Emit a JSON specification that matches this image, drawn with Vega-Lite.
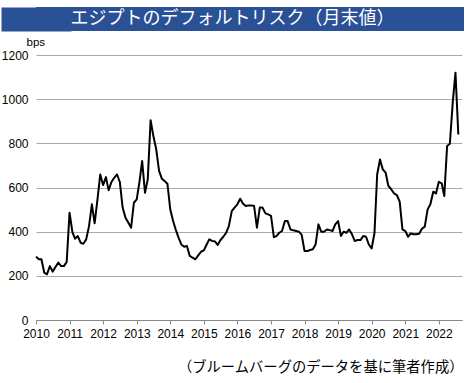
{
  "$schema": "https://vega.github.io/schema/vega-lite/v6.json",
  "padding": {"left": 1, "top": 7, "right": 0, "bottom": 0},
  "background": "white",
  "config": {"view": {"stroke": null}, "font": "Liberation Sans"},
  "datasets": {
    "title": [{"t": "エジプトのデフォルトリスク（月末値）"}],
    "cds": [
      {"date": "2010/01/01", "bps": 287}, {"date": "2010/02/01", "bps": 275}, {"date": "2010/03/01", "bps": 275}, {"date": "2010/04/01", "bps": 214}, {"date": "2010/05/01", "bps": 207}, {"date": "2010/06/01", "bps": 244}, {"date": "2010/07/01", "bps": 219}, {"date": "2010/08/01", "bps": 240}, {"date": "2010/09/01", "bps": 260}, {"date": "2010/10/01", "bps": 244}, {"date": "2010/11/01", "bps": 244}, {"date": "2010/12/01", "bps": 263},
      {"date": "2011/01/01", "bps": 486}, {"date": "2011/02/01", "bps": 398}, {"date": "2011/03/01", "bps": 368}, {"date": "2011/04/01", "bps": 380}, {"date": "2011/05/01", "bps": 350}, {"date": "2011/06/01", "bps": 345}, {"date": "2011/07/01", "bps": 365}, {"date": "2011/08/01", "bps": 425}, {"date": "2011/09/01", "bps": 524}, {"date": "2011/10/01", "bps": 438}, {"date": "2011/11/01", "bps": 546}, {"date": "2011/12/01", "bps": 659},
      {"date": "2012/01/01", "bps": 611}, {"date": "2012/02/01", "bps": 647}, {"date": "2012/03/01", "bps": 588}, {"date": "2012/04/01", "bps": 625}, {"date": "2012/05/01", "bps": 644}, {"date": "2012/06/01", "bps": 659}, {"date": "2012/07/01", "bps": 625}, {"date": "2012/08/01", "bps": 508}, {"date": "2012/09/01", "bps": 463}, {"date": "2012/10/01", "bps": 441}, {"date": "2012/11/01", "bps": 418}, {"date": "2012/12/01", "bps": 531},
      {"date": "2013/01/01", "bps": 546}, {"date": "2013/02/01", "bps": 629}, {"date": "2013/03/01", "bps": 720}, {"date": "2013/04/01", "bps": 576}, {"date": "2013/05/01", "bps": 637}, {"date": "2013/06/01", "bps": 905}, {"date": "2013/07/01", "bps": 833}, {"date": "2013/08/01", "bps": 773}, {"date": "2013/09/01", "bps": 675}, {"date": "2013/10/01", "bps": 640}, {"date": "2013/11/01", "bps": 629}, {"date": "2013/12/01", "bps": 617},
      {"date": "2014/01/01", "bps": 500}, {"date": "2014/02/01", "bps": 448}, {"date": "2014/03/01", "bps": 410}, {"date": "2014/04/01", "bps": 373}, {"date": "2014/05/01", "bps": 342}, {"date": "2014/06/01", "bps": 332}, {"date": "2014/07/01", "bps": 335}, {"date": "2014/08/01", "bps": 290}, {"date": "2014/09/01", "bps": 282}, {"date": "2014/10/01", "bps": 275}, {"date": "2014/11/01", "bps": 293}, {"date": "2014/12/01", "bps": 309},
      {"date": "2015/01/01", "bps": 315}, {"date": "2015/02/01", "bps": 342}, {"date": "2015/03/01", "bps": 365}, {"date": "2015/04/01", "bps": 358}, {"date": "2015/05/01", "bps": 356}, {"date": "2015/06/01", "bps": 340}, {"date": "2015/07/01", "bps": 362}, {"date": "2015/08/01", "bps": 377}, {"date": "2015/09/01", "bps": 395}, {"date": "2015/10/01", "bps": 426}, {"date": "2015/11/01", "bps": 493}, {"date": "2015/12/01", "bps": 509},
      {"date": "2016/01/01", "bps": 524}, {"date": "2016/02/01", "bps": 549}, {"date": "2016/03/01", "bps": 528}, {"date": "2016/04/01", "bps": 516}, {"date": "2016/05/01", "bps": 519}, {"date": "2016/06/01", "bps": 519}, {"date": "2016/07/01", "bps": 516}, {"date": "2016/08/01", "bps": 418}, {"date": "2016/09/01", "bps": 509}, {"date": "2016/10/01", "bps": 509}, {"date": "2016/11/01", "bps": 483}, {"date": "2016/12/01", "bps": 478},
      {"date": "2017/01/01", "bps": 471}, {"date": "2017/02/01", "bps": 375}, {"date": "2017/03/01", "bps": 380}, {"date": "2017/04/01", "bps": 395}, {"date": "2017/05/01", "bps": 403}, {"date": "2017/06/01", "bps": 448}, {"date": "2017/07/01", "bps": 448}, {"date": "2017/08/01", "bps": 410}, {"date": "2017/09/01", "bps": 406}, {"date": "2017/10/01", "bps": 403}, {"date": "2017/11/01", "bps": 400}, {"date": "2017/12/01", "bps": 385},
      {"date": "2018/01/01", "bps": 312}, {"date": "2018/02/01", "bps": 312}, {"date": "2018/03/01", "bps": 317}, {"date": "2018/04/01", "bps": 320}, {"date": "2018/05/01", "bps": 342}, {"date": "2018/06/01", "bps": 433}, {"date": "2018/07/01", "bps": 400}, {"date": "2018/08/01", "bps": 400}, {"date": "2018/09/01", "bps": 410}, {"date": "2018/10/01", "bps": 407}, {"date": "2018/11/01", "bps": 403}, {"date": "2018/12/01", "bps": 433},
      {"date": "2019/01/01", "bps": 448}, {"date": "2019/02/01", "bps": 380}, {"date": "2019/03/01", "bps": 400}, {"date": "2019/04/01", "bps": 395}, {"date": "2019/05/01", "bps": 410}, {"date": "2019/06/01", "bps": 388}, {"date": "2019/07/01", "bps": 358}, {"date": "2019/08/01", "bps": 362}, {"date": "2019/09/01", "bps": 362}, {"date": "2019/10/01", "bps": 380}, {"date": "2019/11/01", "bps": 377}, {"date": "2019/12/01", "bps": 342},
      {"date": "2020/01/01", "bps": 324}, {"date": "2020/02/01", "bps": 395}, {"date": "2020/03/01", "bps": 659}, {"date": "2020/04/01", "bps": 727}, {"date": "2020/05/01", "bps": 682}, {"date": "2020/06/01", "bps": 667}, {"date": "2020/07/01", "bps": 607}, {"date": "2020/08/01", "bps": 592}, {"date": "2020/09/01", "bps": 573}, {"date": "2020/10/01", "bps": 566}, {"date": "2020/11/01", "bps": 536}, {"date": "2020/12/01", "bps": 410},
      {"date": "2021/01/01", "bps": 403}, {"date": "2021/02/01", "bps": 377}, {"date": "2021/03/01", "bps": 392}, {"date": "2021/04/01", "bps": 388}, {"date": "2021/05/01", "bps": 388}, {"date": "2021/06/01", "bps": 391}, {"date": "2021/07/01", "bps": 413}, {"date": "2021/08/01", "bps": 423}, {"date": "2021/09/01", "bps": 501}, {"date": "2021/10/01", "bps": 524}, {"date": "2021/11/01", "bps": 581}, {"date": "2021/12/01", "bps": 573},
      {"date": "2022/01/01", "bps": 626}, {"date": "2022/02/01", "bps": 619}, {"date": "2022/03/01", "bps": 561}, {"date": "2022/04/01", "bps": 788}, {"date": "2022/05/01", "bps": 798}, {"date": "2022/06/01", "bps": 984}, {"date": "2022/07/01", "bps": 1120}, {"date": "2022/08/01", "bps": 840}
    ]
  },
  "spacing": 5,
  "vconcat": [
    {
      "width": 428,
      "height": 24,
      "view": {"fill": "#2a5096", "stroke": null},
      "data": {"name": "title"},
      "mark": {"type": "text", "color": "white", "font": "Noto Sans CJK JP", "fontSize": 18, "baseline": "middle", "align": "center", "dx": -17.5},
      "encoding": {
        "text": {"field": "t", "type": "nominal"},
        "y": {
          "field": "t",
          "type": "nominal",
          "axis": {"labels": false, "ticks": false, "title": null, "grid": false, "domain": true, "domainColor": "#2a5096", "domainWidth": 70}
        }
      }
    },
    {
      "width": 426,
      "height": 265,
      "data": {"name": "cds"},
      "mark": {"type": "line", "color": "black", "strokeWidth": 2, "strokeJoin": "round"},
      "encoding": {
        "x": {
          "field": "date",
          "type": "temporal",
          "scale": {"domain": [{"year": 2010, "month": 1, "date": 1}, {"year": 2022, "month": 9, "date": 10}]},
          "axis": {
            "title": "（ブルームバーグのデータを基に筆者作成）",
            "titleFont": "Noto Sans CJK JP",
            "titleFontSize": 14.3,
            "titleFontWeight": "normal",
            "titleColor": "black",
            "titleAnchor": "end",
            "titleAlign": "right",
            "titleBaseline": "middle",
            "titleX": 427,
            "titleY": 47,
            "format": "%Y",
            "tickCount": {"interval": "year", "step": 1},
            "grid": false,
            "domainColor": "#888",
            "tickColor": "#888",
            "tickSize": 4,
            "labelFontSize": 12,
            "labelColor": "black",
            "labelPadding": 4,
            "labelFlush": false,
            "labelOverlap": false
          }
        },
        "y": {
          "field": "bps",
          "type": "quantitative",
          "scale": {"domain": [0, 1200], "nice": false},
          "axis": {
            "title": "bps",
            "titleAngle": 0,
            "titleAlign": "left",
            "titleBaseline": "alphabetic",
            "titleX": -10,
            "titleY": -10,
            "titleFontSize": 11.5,
            "titleFontWeight": "normal",
            "titleColor": "black",
            "values": [0, 200, 400, 600, 800, 1000, 1200],
            "format": "d",
            "domain": false,
            "ticks": false,
            "gridColor": "#aaa",
            "gridWidth": 1,
            "labelFontSize": 12,
            "labelColor": "black",
            "labelPadding": 8
          }
        }
      }
    }
  ]
}
